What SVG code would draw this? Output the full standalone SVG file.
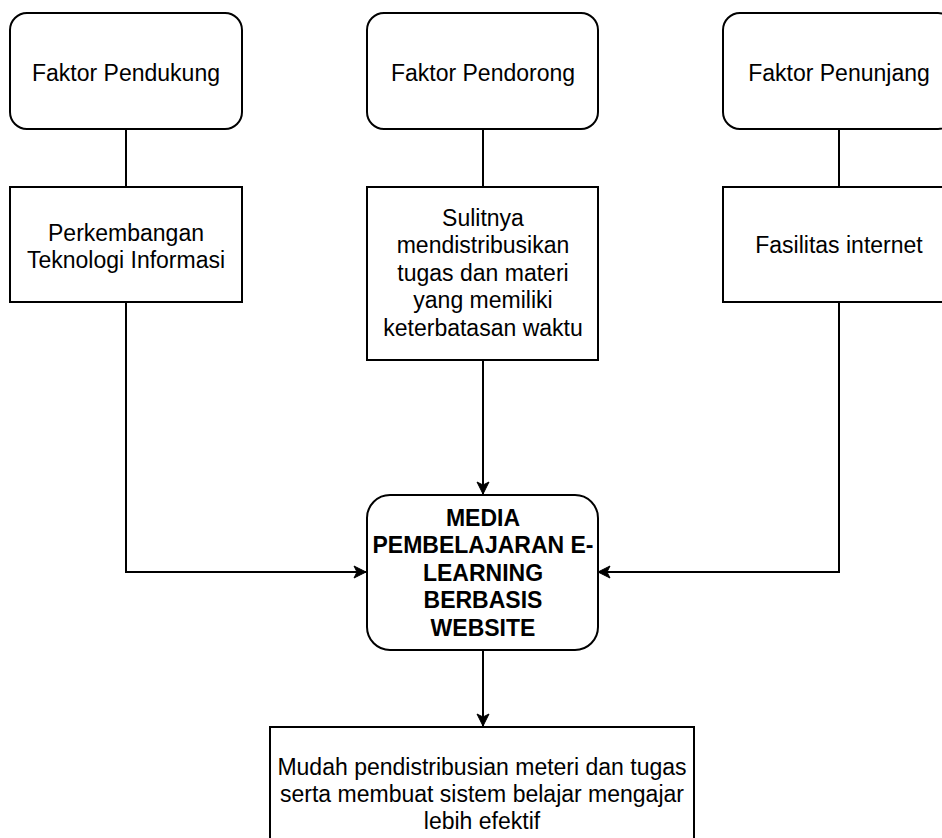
<svg xmlns="http://www.w3.org/2000/svg" width="942" height="838" viewBox="0 0 942 838">
<style>
.box{fill:#fff;stroke:#000;stroke-width:2}
.t{font-family:"Liberation Sans",Arial,sans-serif;font-size:23px;fill:#000;text-anchor:middle}
.b{font-weight:bold}
.c{fill:none;stroke:#000;stroke-width:2}
</style>
<defs>
<marker id="arr" markerUnits="userSpaceOnUse" markerWidth="16" markerHeight="14" refX="13" refY="7" orient="auto">
<path d="M13,7 L1,1 L4,7 L1,13 Z" fill="#000" stroke="#000" stroke-width="1"/>
</marker>
</defs>
<rect width="942" height="838" fill="#fff"/>
<g id="connectors">
<path class="c" d="M126,129 V187"/>
<path class="c" d="M483,129 V187"/>
<path class="c" d="M839,129 V187"/>
<path class="c" d="M126,302 V572 H366" marker-end="url(#arr)"/>
<path class="c" d="M483,360 V494" marker-end="url(#arr)"/>
<path class="c" d="M839,302 V572 H598" marker-end="url(#arr)"/>
<path class="c" d="M483,650 V726" marker-end="url(#arr)"/>
</g>
<g id="faktor-pendukung">
<rect class="box" x="10" y="13" width="232" height="116" rx="17" ry="17"/>
<text class="t" x="126" y="81">Faktor Pendukung</text>
</g>
<g id="faktor-pendorong">
<rect class="box" x="367" y="13" width="231" height="116" rx="17" ry="17"/>
<text class="t" x="483" y="81">Faktor Pendorong</text>
</g>
<g id="faktor-penunjang">
<rect class="box" x="723" y="13" width="232" height="116" rx="17" ry="17"/>
<text class="t" x="839" y="81">Faktor Penunjang</text>
</g>
<g id="perkembangan">
<rect class="box" x="10" y="187" width="232" height="115"/>
<text class="t" x="126" y="241">Perkembangan</text>
<text class="t" x="126" y="268">Teknologi Informasi</text>
</g>
<g id="sulitnya">
<rect class="box" x="367" y="187" width="231" height="173"/>
<text class="t" x="483" y="226">Sulitnya</text>
<text class="t" x="483" y="253">mendistribusikan</text>
<text class="t" x="483" y="281">tugas dan materi</text>
<text class="t" x="483" y="308">yang memiliki</text>
<text class="t" x="483" y="336">keterbatasan waktu</text>
</g>
<g id="fasilitas">
<rect class="box" x="723" y="187" width="232" height="115"/>
<text class="t" x="839" y="253">Fasilitas internet</text>
</g>
<g id="media">
<rect class="box" x="367" y="495" width="231" height="155" rx="23" ry="23"/>
<text class="t b" x="483" y="526">MEDIA</text>
<text class="t b" x="483" y="553">PEMBELAJARAN E-</text>
<text class="t b" x="483" y="581">LEARNING</text>
<text class="t b" x="483" y="608">BERBASIS</text>
<text class="t b" x="483" y="636">WEBSITE</text>
</g>
<g id="hasil">
<rect class="box" x="270" y="727" width="424" height="130"/>
<text class="t" x="482" y="775">Mudah pendistribusian meteri dan tugas</text>
<text class="t" x="482" y="802">serta membuat sistem belajar mengajar</text>
<text class="t" x="482" y="829">lebih efektif</text>
</g>
</svg>
